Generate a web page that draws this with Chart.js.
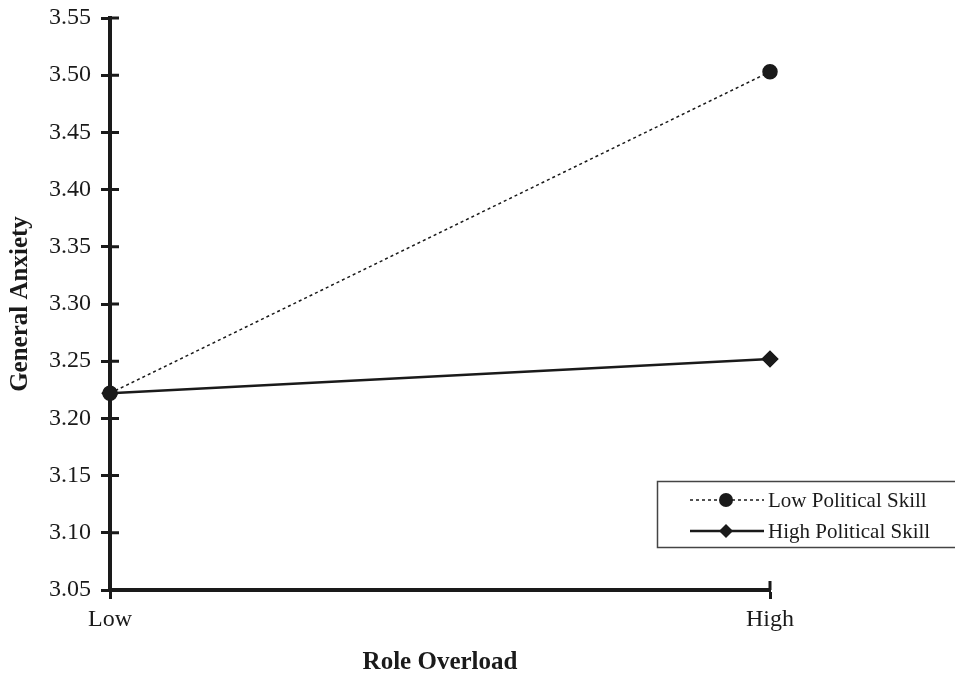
<!DOCTYPE html>
<html>
<head>
<meta charset="utf-8">
<script src="https://cdn.jsdelivr.net/npm/chart.js@4.4.0/dist/chart.umd.min.js"></script>
<style>
  html, body { margin: 0; padding: 0; background: #fff; }
  #wrap { width: 955px; height: 681px; position: relative; }
</style>
</head>
<body>
<div id="wrap"><canvas id="chart" width="955" height="681"></canvas></div>
<script>
// data
const categories = ['Low', 'High'];
const lowSkill = [3.222, 3.503];
const highSkill = [3.222, 3.252];
const seriesNames = ['Low Political Skill', 'High Political Skill'];
const yTicks = [3.05, 3.10, 3.15, 3.20, 3.25, 3.30, 3.35, 3.40, 3.45, 3.50, 3.55];

const ink = '#1a1a1a';
const serif = "'Liberation Serif', 'Times New Roman', serif";

// ticks in the figure cross the axis line, chart.js only draws the outer half
const innerTicks = {
  id: 'innerTicks',
  afterDatasetsDraw(chart) {
    const { ctx, scales: { x, y } } = chart;
    ctx.save();
    ctx.strokeStyle = ink;
    ctx.lineWidth = 3;
    ctx.beginPath();
    yTicks.forEach(v => {
      const py = y.getPixelForValue(v);
      ctx.moveTo(x.left, py);
      ctx.lineTo(x.left + 9, py);
    });
    categories.forEach((c, i) => {
      const px = x.getPixelForValue(i);
      ctx.moveTo(px, y.bottom);
      ctx.lineTo(px, y.bottom - 9);
    });
    ctx.stroke();
    ctx.restore();
  }
};

// boxed legend with line samples like the original
const boxLegend = {
  id: 'boxLegend',
  afterDraw(chart) {
    const ctx = chart.ctx;
    const left = 657, top = 481, h = 66;
    ctx.save();
    ctx.strokeStyle = '#444';
    ctx.lineWidth = 1.5;
    ctx.strokeRect(left + 0.5, top + 0.5, 320, h);
    const rows = [500, 531];
    chart.data.datasets.forEach((ds, i) => {
      const yy = rows[i];
      ctx.strokeStyle = ink;
      ctx.lineWidth = ds.borderWidth;
      ctx.setLineDash(ds.borderDash || []);
      ctx.beginPath();
      ctx.moveTo(690, yy);
      ctx.lineTo(764, yy);
      ctx.stroke();
      ctx.setLineDash([]);
      ctx.fillStyle = ink;
      ctx.beginPath();
      const r = ds.pointRadius;
      if (ds.pointStyle === 'rectRot') {
        ctx.moveTo(726, yy - r);
        ctx.lineTo(726 + r, yy);
        ctx.lineTo(726, yy + r);
        ctx.lineTo(726 - r, yy);
        ctx.closePath();
      } else {
        ctx.arc(726, yy, r, 0, Math.PI * 2);
      }
      ctx.fill();
      ctx.font = '21px ' + serif;
      ctx.textBaseline = 'middle';
      ctx.fillText(seriesNames[i], 768, yy + 1);
    });
    ctx.restore();
  }
};

const ctx = document.getElementById('chart').getContext('2d');
new Chart(ctx, {
  type: 'line',
  data: {
    labels: categories,
    datasets: [
      {
        label: seriesNames[0],
        data: lowSkill,
        borderColor: ink,
        backgroundColor: ink,
        borderWidth: 1.5,
        borderDash: [3, 3],
        pointStyle: 'circle',
        pointRadius: 7,
        fill: false
      },
      {
        label: seriesNames[1],
        data: highSkill,
        borderColor: ink,
        backgroundColor: ink,
        borderWidth: 2.5,
        pointStyle: 'rectRot',
        pointRadius: 7,
        fill: false
      }
    ]
  },
  options: {
    responsive: false,
    animation: false,
    layout: { padding: { left: 0, top: 18, right: 185, bottom: 0 } },
    plugins: { legend: { display: false }, tooltip: { enabled: false } },
    scales: {
      x: {
        type: 'category',
        offset: false,
        border: { display: true, color: ink, width: 4 },
        grid: { drawOnChartArea: false, drawTicks: true, tickLength: 9, tickWidth: 3, tickColor: ink },
        ticks: { color: ink, padding: 6, font: { family: serif, size: 24 } },
        title: {
          display: true, text: 'Role Overload', color: ink,
          font: { family: serif, size: 25, weight: 'bold' },
          padding: { top: 0, bottom: 3 }
        },
        afterFit(scale) { scale.height = 91; scale.paddingLeft = 0; scale.paddingRight = 0; }
      },
      y: {
        min: 3.05,
        max: 3.55,
        border: { display: true, color: ink, width: 4 },
        grid: { drawOnChartArea: false, drawTicks: true, tickLength: 9, tickWidth: 3, tickColor: ink },
        afterBuildTicks(scale) { scale.ticks = yTicks.map(v => ({ value: v })); },
        ticks: {
          color: ink, padding: 10,
          font: { family: serif, size: 24 },
          callback: v => Number(v).toFixed(2)
        },
        title: {
          display: true, text: 'General Anxiety', color: ink,
          font: { family: serif, size: 25, weight: 'bold' },
          padding: { top: 6, bottom: 0 }
        },
        afterFit(scale) { scale.width = 110; scale.paddingTop = 0; scale.paddingBottom = 0; }
      }
    }
  },
  plugins: [innerTicks, boxLegend]
});
</script>
</body>
</html>
